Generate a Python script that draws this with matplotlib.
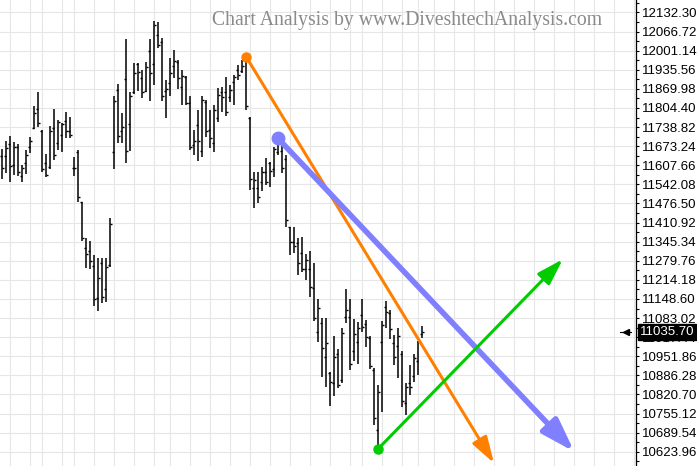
"""Nifty daily OHLC bars with hand-drawn trend arrows."""

import matplotlib
matplotlib.use("Agg")
import matplotlib.pyplot as plt
import matplotlib.transforms as mtransforms
import numpy as np
import pandas as pd

FIRST_DAY = "2019-04-04"
LAST_DAY = "2019-09-11"
HOLIDAYS = ["2019-04-17", "2019-04-19", "2019-04-29", "2019-05-01", "2019-06-05",
            "2019-08-12", "2019-08-15", "2019-09-02", "2019-09-10"]

opens = [11640, 11640, 11680, 11610, 11670, 11570, 11615, 11670, 11737, 11800,
         11727, 11614, 11603, 11735, 11685, 11710, 11760, 11725, 11600, 11654,
         11480, 11323, 11314, 11262, 11151, 11271, 11183, 11265, 11654, 11866,
         11725, 11903, 11749, 11860, 11954, 11906, 11863, 12000, 11955, 12055,
         12030, 11863, 11890, 11950, 11963, 11878, 11912, 11821, 11677, 11746,
         11657, 11824, 11729, 11683, 11771, 11860, 11860, 11843, 11893, 11935,
         11931, 11969, 11769, 11531, 11531, 11551, 11586, 11614, 11595, 11655,
         11657, 11629, 11395, 11345, 11340, 11305, 11250, 11250, 11187, 11036,
         11065, 10950, 10895, 10860, 10960, 10870, 11087, 11087, 10970, 11000,
         11095, 11063, 11015, 10905, 10700, 11000, 11120, 11101, 10996, 10987,
         10960, 10790, 10860, 10883, 10937, 11028]
highs = [11664, 11691, 11709, 11687, 11682, 11609, 11660, 11706, 11812, 11858,
         11729, 11646, 11743, 11800, 11763, 11752, 11790, 11775, 11637, 11660,
         11481, 11357, 11349, 11300, 11290, 11288, 11288, 11426, 11846, 11887,
         11786, 12041, 11858, 11958, 11958, 11935, 11963, 12041, 12103, 12099,
         12044, 11901, 11975, 12004, 11969, 11935, 11914, 11847, 11729, 11798,
         11847, 11832, 11798, 11815, 11874, 11877, 11912, 11883, 11918, 11952,
         11969, 11981, 11775, 11586, 11586, 11603, 11632, 11620, 11672, 11697,
         11683, 11643, 11397, 11397, 11357, 11363, 11302, 11313, 11271, 11149,
         11082, 11082, 10899, 11022, 10976, 11050, 11182, 11149, 11079, 11071,
         11149, 11076, 11022, 10911, 10853, 11074, 11143, 11111, 11025, 11048,
         10971, 10859, 10922, 10960, 11005, 11056]
lows = [11560, 11580, 11549, 11574, 11572, 11551, 11579, 11649, 11731, 11738,
        11584, 11566, 11595, 11625, 11660, 11654, 11700, 11700, 11572, 11483,
        11348, 11256, 11252, 11126, 11108, 11134, 11139, 11260, 11594, 11683,
        11683, 11614, 11657, 11851, 11863, 11838, 11858, 11828, 11883, 12009,
        11830, 11769, 11846, 11906, 11870, 11815, 11815, 11660, 11643, 11623,
        11637, 11706, 11666, 11654, 11757, 11792, 11777, 11826, 11815, 11901,
        11924, 11798, 11523, 11462, 11477, 11519, 11540, 11534, 11569, 11643,
        11580, 11397, 11300, 11306, 11231, 11242, 11214, 11154, 11074, 11000,
        10882, 10848, 10781, 10816, 10842, 10860, 11065, 10905, 10937, 10925,
        11036, 10985, 10907, 10716, 10635, 10762, 11048, 11010, 10922, 10876,
        10779, 10750, 10819, 10865, 10888, 11014]
closes = [11598, 11666, 11604, 11672, 11584, 11597, 11643, 11690, 11787, 11753,
          11594, 11576, 11726, 11642, 11755, 11748, 11725, 11712, 11598, 11498,
          11359, 11302, 11279, 11148, 11222, 11157, 11257, 11407, 11828, 11709,
          11738, 11657, 11844, 11925, 11929, 11861, 11946, 11923, 12089, 12022,
          11844, 11871, 11923, 11966, 11906, 11914, 11823, 11672, 11691, 11692,
          11832, 11724, 11700, 11796, 11848, 11842, 11789, 11866, 11910, 11917,
          11947, 11811, 11559, 11556, 11499, 11583, 11552, 11588, 11663, 11688,
          11597, 11419, 11346, 11331, 11271, 11252, 11284, 11189, 11085, 11118,
          10980, 10997, 10863, 10948, 10855, 11032, 11110, 10926, 11029, 11048,
          11054, 11017, 10919, 10741, 10829, 11058, 11105, 11046, 10948, 11023,
          10798, 10845, 10848, 10946, 11003, 11035.70]

PRICE_TICK_START = 10623.96
PRICE_TICK_STEP = 65.58
N_PRICE_TICKS = 24
LAST_PRICE = 11035.70

# trend arrows as (start bar, start price, end bar, end price)
orange_arrow = (61, 11981, 123, 10585)
blue_arrow = (69, 11700, 143.1, 10624)
green_arrow = (94.1, 10635, 140.2, 11285)

TITLE = "Chart Analysis by www.DiveshtechAnalysis.com"

X_LIMITS = (-0.5, 158.5)
Y_LIMITS = (10575.2, 12175.2)


def trading_days():
    days = pd.bdate_range(FIRST_DAY, LAST_DAY, freq="C", holidays=HOLIDAYS)
    future = pd.bdate_range(pd.Timestamp(LAST_DAY) + pd.Timedelta(days=1), periods=60)
    return days.append(future)


def week_starts(days):
    weeks = days.isocalendar().week.to_numpy()
    return [i for i in range(1, len(days)) if weeks[i] != weeks[i - 1]]


def draw_arrow(ax, arrow, color, lw, dot, head_len, head_w):
    x0, y0, x1, y1 = arrow
    ax.annotate("", xy=(x1, y1), xytext=(x0, y0),
                arrowprops=dict(arrowstyle=f"-|>,head_length={head_len},head_width={head_w}",
                                color=color, lw=lw, shrinkA=0, shrinkB=0,
                                mutation_scale=10),
                annotation_clip=False, zorder=4)
    ax.plot([x0], [y0], "o", color=color, ms=dot, mec=color, zorder=5)


def main():
    plt.rcParams["font.family"] = ["Liberation Sans", "DejaVu Sans"]
    fig = plt.figure(figsize=(6.97, 4.66), dpi=100)
    ax = fig.add_axes([0, 0, 636 / 697, 1])

    n = len(closes)
    x = np.arange(n)
    days = trading_days()

    # bars
    ax.vlines(x, lows, highs, color="black", lw=1.1, zorder=3)
    ax.hlines(opens, x - 0.4, x, color="black", lw=1.0, zorder=3)
    ax.hlines(closes, x, x + 0.4, color="black", lw=1.0, zorder=3)

    # arrows
    draw_arrow(ax, orange_arrow, "#ff8000", 2.2, 6.5, 1.6, 0.5)
    draw_arrow(ax, blue_arrow, "#8080ff", 4.0, 9, 2.0, 0.65)
    draw_arrow(ax, green_arrow, "#00cc00", 2.2, 6.5, 1.6, 0.5)

    grid_x = [i + 0.12 for i in week_starts(days) if i + 0.12 < X_LIMITS[1]]
    ax.set_xticks(grid_x)
    ax.tick_params(axis="x", length=0, labelbottom=False)

    yt = [PRICE_TICK_START + k * PRICE_TICK_STEP for k in range(N_PRICE_TICKS)]
    ax.set_yticks(yt)
    ax.set_yticklabels([f"{v:.2f}" for v in yt])
    ax.set_yticks([v + PRICE_TICK_STEP / 2 for v in [yt[0] - PRICE_TICK_STEP] + yt], minor=True)
    ax.yaxis.tick_right()
    ax.tick_params(axis="y", which="major", length=2.5, width=0.8, pad=1.5,
                   labelsize=9.5, colors="black")
    ax.tick_params(axis="y", which="minor", length=2.5, width=0.8)
    ax.grid(True, which="major", color="#e6e6e6", lw=0.8, zorder=0)
    ax.set_axisbelow(True)

    ax.set_xlim(*X_LIMITS)
    ax.set_ylim(*Y_LIMITS)

    for side in ("left", "top", "bottom"):
        ax.spines[side].set_visible(False)
    ax.spines["right"].set_linewidth(0.9)

    # last price marker
    trans = mtransforms.blended_transform_factory(ax.transAxes, ax.transData)
    ax.text(1.0 + 4 / 636, LAST_PRICE, f"{LAST_PRICE:.2f}", transform=trans,
            color="white", fontsize=9.5, va="center", ha="left", zorder=10,
            clip_on=False, bbox=dict(boxstyle="square,pad=0.15", fc="black", ec="black"))
    ax.plot([0.975, 0.992], [LAST_PRICE, LAST_PRICE], color="black", lw=0.8,
            transform=trans, clip_on=False, zorder=6)
    ax.plot([0.985], [LAST_PRICE], marker="<", color="black", ms=5,
            transform=trans, clip_on=False, zorder=6)

    fig.text(407 / 697, 1 - 20.5 / 466, TITLE, ha="center", va="center",
             fontsize=14.2, color="#8a8a8a", family=["Liberation Serif", "DejaVu Serif"])

    fig.savefig("out.png", dpi=100)


if __name__ == "__main__":
    main()
